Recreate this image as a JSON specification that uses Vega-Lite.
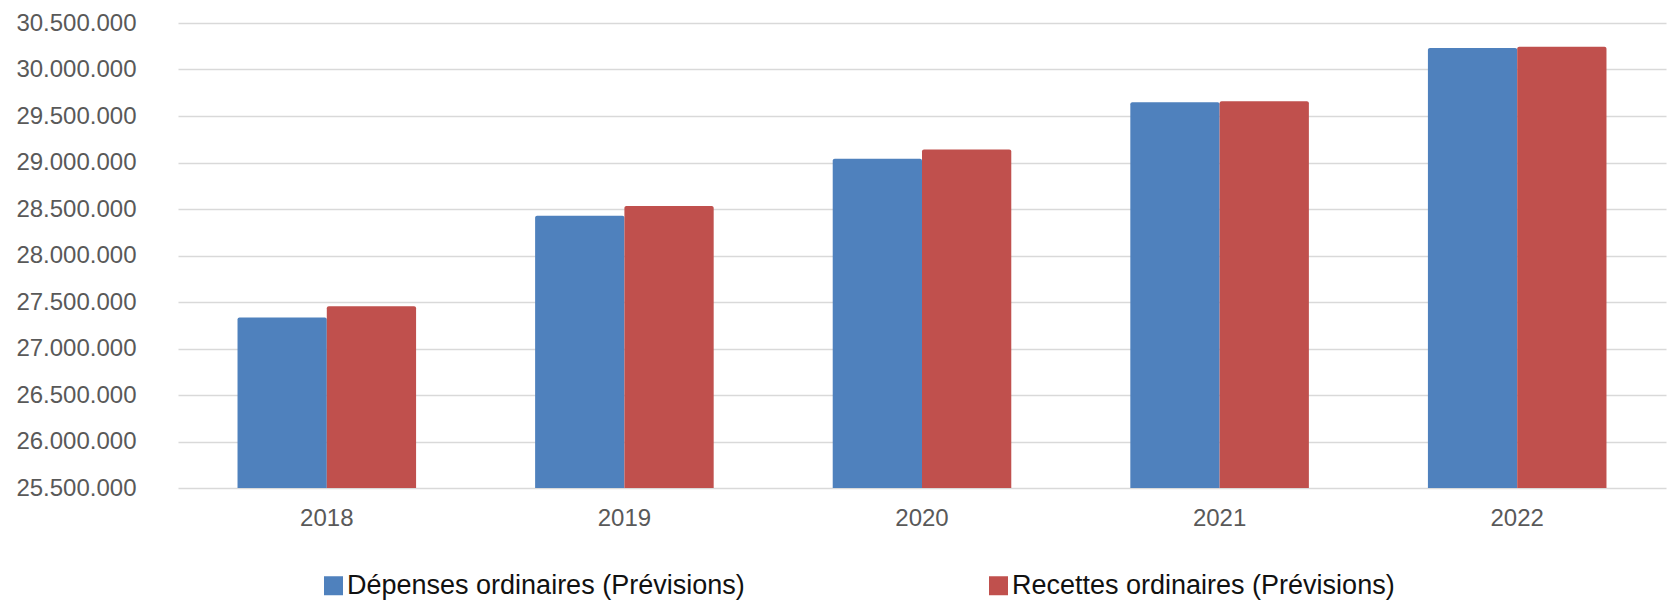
{
  "$schema": "https://vega.github.io/schema/vega-lite/v6.json",
  "width": 1488,
  "height": 465,
  "autosize": {"type": "none"},
  "padding": {"left": 178, "top": 23, "right": 14, "bottom": 112},
  "background": "white",
  "data": {
    "values": [
      {"annee": "2018", "serie": "Dépenses ordinaires (Prévisions)", "valeur": 27334000},
      {"annee": "2018", "serie": "Recettes ordinaires (Prévisions)", "valeur": 27453000},
      {"annee": "2019", "serie": "Dépenses ordinaires (Prévisions)", "valeur": 28428000},
      {"annee": "2019", "serie": "Recettes ordinaires (Prévisions)", "valeur": 28532000},
      {"annee": "2020", "serie": "Dépenses ordinaires (Prévisions)", "valeur": 29040000},
      {"annee": "2020", "serie": "Recettes ordinaires (Prévisions)", "valeur": 29140000},
      {"annee": "2021", "serie": "Dépenses ordinaires (Prévisions)", "valeur": 29647000},
      {"annee": "2021", "serie": "Recettes ordinaires (Prévisions)", "valeur": 29658000},
      {"annee": "2022", "serie": "Dépenses ordinaires (Prévisions)", "valeur": 30231000},
      {"annee": "2022", "serie": "Recettes ordinaires (Prévisions)", "valeur": 30245000}
    ]
  },
  "mark": {"type": "bar", "cornerRadiusTopLeft": 2, "cornerRadiusTopRight": 2},
  "encoding": {
    "x": {
      "field": "annee",
      "type": "nominal",
      "scale": {"paddingInner": 0.4, "paddingOuter": 0.2},
      "axis": {
        "title": null,
        "labelAngle": 0,
        "ticks": false,
        "domain": false,
        "labelPadding": 18,
        "labelFontSize": 24,
        "labelFont": "Liberation Sans",
        "labelColor": "#595959",
        "grid": false
      }
    },
    "xOffset": {"field": "serie", "type": "nominal"},
    "y": {
      "field": "valeur",
      "type": "quantitative",
      "scale": {"domain": [25500000, 30500000], "nice": false, "zero": false},
      "axis": {
        "title": null,
        "values": [25500000, 26000000, 26500000, 27000000, 27500000, 28000000, 28500000, 29000000, 29500000, 30000000, 30500000],
        "format": ",d",
        "labelOverlap": false,
        "ticks": false,
        "domain": false,
        "labelPadding": 42,
        "labelFontSize": 24,
        "labelFont": "Liberation Sans",
        "labelColor": "#595959",
        "gridColor": "#d9d9d9",
        "gridWidth": 1.5
      }
    },
    "y2": {"datum": 25500000},
    "color": {
      "field": "serie",
      "type": "nominal",
      "scale": {"range": ["#4F81BD", "#C0504D"]},
      "legend": {
        "title": null,
        "orient": "none",
        "direction": "horizontal",
        "legendX": 142,
        "legendY": 549,
        "padding": 0,
        "symbolType": "square",
        "symbolSize": 361,
        "symbolStrokeWidth": 0,
        "symbolOpacity": 1,
        "labelOffset": 0,
        "labelFontSize": 27,
        "labelFont": "Liberation Sans",
        "labelColor": "#111111",
        "labelLimit": 700,
        "columnPadding": 240
      }
    }
  },
  "config": {
    "view": {"stroke": null},
    "locale": {"number": {"decimal": ",", "thousands": ".", "grouping": [3], "currency": ["", " €"]}}
  }
}
